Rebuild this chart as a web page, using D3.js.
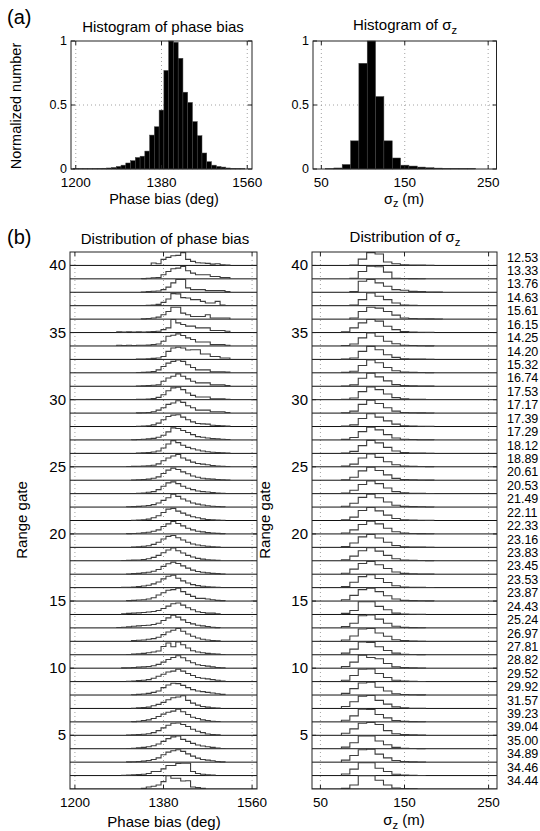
<!DOCTYPE html>
<html><head><meta charset="utf-8">
<script src="https://cdn.jsdelivr.net/npm/d3@7"></script>
<style>
body{margin:0;background:#fff}
svg{display:block}
text{font-family:"Liberation Sans",Arial,Helvetica,sans-serif;fill:#000}
</style>
</head><body>
<svg id="c" width="540" height="831"></svg>
<script>
// ---------------- DATA ----------------
// (a) histogram of phase bias
const phaseHistCenters = [1200,1210,1220,1230,1240,1250,1260,1270,1280,1290,1300,1310,1320,1330,1340,1350,1360,1370,1380,1390,1400,1410,1420,1430,1440,1450,1460,1470,1480,1490,1500,1510,1520,1530,1540,1550];
const phaseHistValues  = [0.003,0.003,0.003,0.003,0.004,0.005,0.006,0.008,0.012,0.02,0.03,0.047,0.065,0.09,0.10,0.14,0.265,0.33,0.46,0.77,1.0,0.99,0.865,0.6,0.52,0.37,0.26,0.125,0.057,0.03,0.02,0.015,0.008,0.005,0.004,0.003];
// (a) histogram of sigma_z
const sigmaHistCenters = [60,70,80,90,100,110,120,130,140,150,160,170,180,190,200,210,220,230];
const sigmaHistValues  = [0.003,0.008,0.035,0.22,0.826,1.0,0.566,0.22,0.086,0.03,0.023,0.015,0.01,0.007,0.005,0.005,0.004,0.004];

// (b) range gates, listed from top (40) to bottom (1)
const rangeGates = [40,39,38,37,36,35,34,33,32,31,30,29,28,27,26,25,24,23,22,21,20,19,18,17,16,15,14,13,12,11,10,9,8,7,6,5,4,3,2,1];
const gateTicks = [5,10,15,20,25,30,35,40];
// phase bias distribution per gate (percent of gate height), bin centres below
const phaseBins = [1290,1300,1310,1320,1330,1340,1350,1360,1370,1380,1390,1400,1410,1420,1430,1440,1450,1460,1470,1480,1490,1500,1510,1520];
const phaseDist = [
 [0,0,0,0,0,0,0,18,12,45,60,72,75,95,45,30,20,18,15,10,13,5,2,0],
 [0,0,0,0,0,2,5,8,10,30,55,75,80,92,60,43,30,30,30,18,18,10,10,0],
 [0,0,0,0,0,2,5,8,10,20,38,70,95,95,33,20,20,20,12,12,12,12,5,0],
 [0,0,0,0,0,2,3,5,10,25,50,90,88,60,57,45,45,32,20,20,32,5,2,0],
 [0,0,0,0,0,2,5,8,15,33,57,88,88,45,33,20,20,20,33,8,8,8,8,0],
 [5,3,6,4,5,3,6,8,10,22,35,97,72,60,48,48,35,35,35,15,15,15,10,0],
 [5,4,5,3,5,5,6,10,15,35,72,80,90,78,60,48,30,30,30,10,10,10,5,0],
 [0,0,0,0,2,3,5,8,10,22,60,85,90,85,70,72,72,40,40,22,22,10,10,0],
 [0,0,0,0,2,3,5,10,22,47,72,85,95,85,60,40,22,22,22,8,8,8,5,0],
 [0,0,0,0,2,3,5,8,10,37,62,75,92,75,55,37,25,25,25,10,10,10,5,0],
 [0,0,0,0,2,3,5,8,17,37,67,88,92,75,50,32,20,20,20,7,7,7,3,0],
 [0,0,0,0,2,3,5,10,22,40,65,75,92,80,55,40,22,22,22,10,10,10,4,0],
 [0,0,0,0,2,3,6,12,25,50,75,85,88,70,50,35,22,20,18,10,8,6,3,0],
 [0,0,0,2,3,5,8,12,20,35,60,90,85,70,55,40,25,20,15,10,8,5,3,0],
 [0,0,0,0,2,4,6,10,18,40,70,95,80,60,45,35,25,18,12,8,6,4,2,0],
 [0,0,2,3,4,6,8,12,22,45,65,80,92,65,50,35,25,20,15,10,6,4,2,0],
 [0,0,0,2,3,5,8,15,25,50,75,90,80,62,48,32,22,15,10,8,5,3,2,0],
 [0,0,0,0,3,5,10,15,30,55,80,88,75,55,40,30,20,15,12,8,5,3,0,0],
 [0,0,2,3,5,8,12,18,30,50,70,95,80,60,45,30,22,15,10,6,4,2,0,0],
 [0,0,0,2,4,6,10,20,35,60,85,90,70,55,40,28,20,12,8,5,3,2,0,0],
 [0,0,2,3,5,8,12,20,30,55,75,92,78,60,42,30,20,15,10,6,4,2,0,0],
 [0,0,0,3,5,8,12,22,38,62,82,88,72,55,38,25,18,12,8,5,3,0,0,0],
 [0,2,3,5,6,10,15,25,40,60,80,95,75,58,40,28,18,12,8,5,3,0,0,0],
 [0,0,2,4,6,10,15,22,35,58,78,90,80,62,45,30,20,15,10,6,4,2,0,0],
 [0,2,3,5,8,12,18,28,42,65,85,92,70,50,35,22,15,10,6,4,2,0,0,0],
 [0,0,3,5,8,10,15,25,45,62,80,85,95,70,50,35,20,20,15,10,5,3,0,0],
 [0,5,8,10,12,15,18,22,30,45,62,80,85,70,50,35,20,15,10,10,5,0,0,0],
 [3,5,8,12,15,18,20,25,35,55,75,95,80,60,40,30,20,15,10,5,2,0,0,0],
 [0,0,0,5,8,10,15,20,30,50,70,82,95,75,55,38,25,15,10,5,3,0,0,0],
 [0,0,2,5,8,10,15,20,28,62,88,60,95,75,50,30,20,15,10,8,5,2,0,0],
 [0,2,3,5,8,10,12,18,28,45,65,80,92,78,55,40,25,20,15,10,5,3,0,0],
 [0,0,2,5,8,10,15,25,40,55,72,78,92,78,60,45,30,25,20,15,10,5,0,0],
 [0,0,0,2,5,8,12,20,30,55,75,88,85,72,55,40,30,25,20,15,10,5,0,0],
 [0,0,0,2,4,6,10,20,30,45,65,80,85,95,60,40,25,15,10,5,3,0,0,0],
 [0,0,0,2,5,10,15,25,40,58,72,80,95,75,55,35,25,15,10,5,3,0,0,0],
 [0,0,2,4,6,8,12,20,35,55,75,90,92,80,65,45,30,20,10,5,3,0,0,0],
 [0,0,2,4,6,10,15,22,35,55,75,88,95,70,55,40,28,20,15,10,5,2,0,0],
 [0,0,2,3,5,8,12,20,32,55,75,85,92,80,62,45,30,20,15,10,5,2,0,0],
 [0,2,3,5,8,10,15,30,30,50,75,75,90,92,92,30,15,10,5,3,0,0,0,0],
 [0,0,0,0,0,5,15,20,30,55,100,80,80,60,62,15,10,5,0,0,0,0,0,0]
];
// sigma_z distribution per gate (percent of gate height)
const sigmaBins = [70,80,90,100,110,120,130,140,150,160,170,180,190];
const sigmaDist = [
 [0,0,2,47,95,85,25,12,4,3,2,1,0],
 [0,0,5,55,95,90,50,5,3,2,1,0,0],
 [0,0,5,82,95,70,45,20,15,7,5,2,1],
 [0,0,5,45,95,70,45,20,5,3,2,1,0],
 [0,0,8,57,88,82,57,30,8,5,3,2,1],
 [0,5,35,72,97,85,47,22,8,4,2,1,0],
 [0,3,15,60,97,72,35,17,5,3,2,1,0],
 [0,2,10,60,97,72,35,15,5,3,2,1,0],
 [0,3,12,55,95,75,40,15,5,3,2,1,0],
 [0,2,10,60,97,70,40,12,5,3,2,1,0],
 [0,3,12,60,95,75,42,15,6,3,2,1,0],
 [0,3,15,65,97,72,40,15,5,3,2,1,0],
 [0,3,12,60,95,70,42,18,6,4,2,1,0],
 [0,4,18,62,95,75,40,15,5,3,2,1,0],
 [0,3,15,58,97,78,45,18,6,3,2,1,0],
 [0,5,20,65,95,70,38,15,5,3,2,1,0],
 [0,4,22,70,97,72,40,14,5,3,2,1,0],
 [0,5,25,68,95,75,42,15,6,3,2,1,0],
 [0,6,28,72,96,70,38,14,5,3,2,1,0],
 [0,5,25,75,97,72,40,15,5,3,2,1,0],
 [0,7,30,70,95,75,42,16,6,3,2,1,0],
 [0,6,32,78,96,70,38,14,5,3,2,1,0],
 [0,8,35,75,97,72,40,15,5,3,2,1,0],
 [0,7,38,80,95,70,42,16,6,3,2,1,0],
 [0,8,40,82,97,68,38,14,5,3,2,1,0],
 [0,10,42,85,96,70,40,15,5,3,2,1,0],
 [0,8,30,95,95,60,35,10,4,2,1,0,0],
 [0,10,35,90,97,65,35,12,4,2,1,0,0],
 [0,10,40,92,95,62,38,12,5,2,1,0,0],
 [0,12,42,95,92,60,32,12,4,2,1,0,0],
 [0,12,45,97,80,70,35,10,4,2,1,0,0],
 [0,10,45,92,95,60,30,10,4,2,1,0,0],
 [0,12,48,90,95,58,30,10,4,2,1,0,0],
 [0,15,50,92,97,60,32,12,5,2,1,0,0],
 [0,12,45,95,92,55,30,10,4,2,1,0,0],
 [0,15,48,90,95,80,35,12,5,3,1,0,0],
 [0,12,45,95,95,58,30,10,4,2,1,0,0],
 [0,15,50,92,97,60,32,12,5,2,1,0,0],
 [0,12,48,95,95,55,30,10,4,2,1,0,0],
 [0,5,30,100,100,65,30,8,3,1,0,0,0]
];
const sigmaLabels = ["12.53","13.33","13.76","14.63","15.61","16.15","14.25","14.20","15.32","16.74","17.53","17.17","17.39","17.29","18.12","18.89","20.61","20.53","21.49","22.11","22.33","23.16","23.83","23.45","23.53","23.87","24.43","25.24","26.97","27.81","28.82","29.52","29.92","31.57","39.23","39.04","35.00","34.89","34.46","34.44"];

const phaseTicks = [1200,1380,1560];
const sigmaTicks = [50,150,250];
const normTicks = [0,0.5,1];
const normTickLabels = ["0","0.5","1"];

// ---------------- DRAWING ----------------
const svg = d3.select("#c");
const FS_TICK = 13.5, FS_LAB = 15;

function frame(g, x, y, xt, yGrid) {
  const [x0,x1] = x.range(), [y1,y0] = y.range();
  g.selectAll(".gx").data(xt).join("line")
    .attr("x1", d=>x(d)).attr("x2", d=>x(d)).attr("y1", y0).attr("y2", y1)
    .attr("stroke","#8a8a8a").attr("stroke-width",0.8).attr("stroke-dasharray","1,3");
  g.selectAll(".gy").data(yGrid).join("line")
    .attr("y1", d=>y(d)).attr("y2", d=>y(d)).attr("x1", x0).attr("x2", x1)
    .attr("stroke","#8a8a8a").attr("stroke-width",0.8).attr("stroke-dasharray","1,3");
}
function box(g, x, y, xt, yt, xLab, yLab, xlOff, yfs) {
  const [x0,x1] = x.range(), [y1,y0] = y.range();
  g.append("rect").attr("x",x0).attr("y",y0).attr("width",x1-x0).attr("height",y1-y0)
    .attr("fill","none").attr("stroke","#222").attr("stroke-width",1);
  const tl = 4;
  xt.forEach(t=>{
    g.append("line").attr("x1",x(t)).attr("x2",x(t)).attr("y1",y1).attr("y2",y1-tl).attr("stroke","#222");
    g.append("line").attr("x1",x(t)).attr("x2",x(t)).attr("y1",y0).attr("y2",y0+tl).attr("stroke","#222");
  });
  yt.forEach(t=>{
    g.append("line").attr("y1",y(t)).attr("y2",y(t)).attr("x1",x0).attr("x2",x0+tl).attr("stroke","#222");
    g.append("line").attr("y1",y(t)).attr("y2",y(t)).attr("x1",x1).attr("x2",x1-tl).attr("stroke","#222");
  });
  g.selectAll(".xl").data(xt).join("text")
    .attr("x",d=>x(d)).attr("y",y1+xlOff).attr("text-anchor","middle").attr("font-size",FS_TICK)
    .text((d,i)=>xLab[i]);
  g.selectAll(".yl").data(yt).join("text")
    .attr("x",x0-4).attr("y",d=>y(d)+yfs*0.33).attr("text-anchor","end").attr("font-size",yfs)
    .text((d,i)=>yLab[i]);
}
function sigmaText(sel, fs, rest) {
  sel.append("tspan").text("σ");
  sel.append("tspan").attr("font-size", fs*0.75).attr("dy", 3.5).text("z");
  if (rest) sel.append("tspan").attr("dy", -3.5).text(rest);
}

// ---- (a) left ----
{
  const x = d3.scaleLinear().domain([1190,1570]).range([71,252]);
  const y = d3.scaleLinear().domain([0,1]).range([169,41]);
  const g = svg.append("g");
  frame(g,x,y,phaseTicks,[0.5]);
  const bw = phaseHistCenters[1]-phaseHistCenters[0];
  g.selectAll(".bar").data(phaseHistCenters).join("rect")
    .attr("x",d=>x(d-bw/2)).attr("width",d=>x(d+bw/2)-x(d-bw/2))
    .attr("y",(d,i)=>y(phaseHistValues[i])).attr("height",(d,i)=>y(0)-y(phaseHistValues[i]))
    .attr("fill","#000").attr("stroke","#444").attr("stroke-width",0.5);
  box(g,x,y,phaseTicks,normTicks,phaseTicks.map(String),normTickLabels,18,12.5);
  svg.append("text").attr("x",163).attr("y",32).attr("text-anchor","middle").attr("font-size",FS_LAB).text("Histogram of phase bias");
  svg.append("text").attr("x",164).attr("y",203.5).attr("text-anchor","middle").attr("font-size",14.5).text("Phase bias (deg)");
  svg.append("text").attr("transform","translate(21,106) rotate(-90)").attr("text-anchor","middle").attr("font-size",14.5).text("Normalized number");
  svg.append("text").attr("x",7).attr("y",24).attr("font-size",20).text("(a)");
}
// ---- (a) right ----
{
  const x = d3.scaleLinear().domain([40,260]).range([313,496.5]);
  const y = d3.scaleLinear().domain([0,1]).range([169,41]);
  const g = svg.append("g");
  frame(g,x,y,sigmaTicks,[0.5]);
  const bw = sigmaHistCenters[1]-sigmaHistCenters[0];
  g.selectAll(".bar").data(sigmaHistCenters).join("rect")
    .attr("x",d=>x(d-bw/2)).attr("width",d=>x(d+bw/2)-x(d-bw/2))
    .attr("y",(d,i)=>y(sigmaHistValues[i])).attr("height",(d,i)=>y(0)-y(sigmaHistValues[i]))
    .attr("fill","#000").attr("stroke","#444").attr("stroke-width",0.5);
  box(g,x,y,sigmaTicks,normTicks,sigmaTicks.map(String),normTickLabels,18,12.5);
  sigmaText(svg.append("text").attr("x",405).attr("y",30).attr("text-anchor","middle").attr("font-size",FS_LAB)
     .call(s=>s.append("tspan").text("Histogram of ")), FS_LAB);
  sigmaText(svg.append("text").attr("x",404).attr("y",203.5).attr("text-anchor","middle").attr("font-size",14.5), 14.5, " (m)");
}
svg.append("text").attr("x",7).attr("y",244).attr("font-size",20).text("(b)");

// ---- (b) ridge panels ----
function ridge(xDomain, xRange, bins, dist, ticks, id) {
  const x = d3.scaleLinear().domain(xDomain).range(xRange);
  const y = d3.scaleLinear().domain([1,41]).range([789,252]);
  const g = svg.append("g");
  frame(g,x,y,ticks,[]);
  svg.append("clipPath").attr("id",id).append("rect")
    .attr("x",xRange[0]).attr("y",252).attr("width",xRange[1]-xRange[0]).attr("height",537);
  const cg = g.append("g").attr("clip-path",`url(#${id})`);
  cg.selectAll(".base").data(rangeGates).join("line")
    .attr("x1",xRange[0]).attr("x2",xRange[1]).attr("y1",d=>y(d)).attr("y2",d=>y(d))
    .attr("stroke","#111").attr("stroke-width",1);
  const bw = bins[1]-bins[0];
  const line = d3.line().x(d=>x(d[0])).y(d=>d[1]).curve(d3.curveStepAfter);
  cg.selectAll(".curve").data(rangeGates).join("path")
    .attr("d",(gate,i)=>{
      const v = dist[i];
      let first = v.findIndex(a=>a>0), last = v.length-1;
      while (last>0 && v[last]===0) last--;
      if (first<0) return null;
      const pts = [];
      for (let k=first;k<=last;k++) pts.push([bins[k]-bw/2, y(gate+v[k]/100)]);
      pts.push([bins[last]+bw/2, y(gate)]);
      pts.unshift([bins[first]-bw/2, y(gate)]);
      return line(pts);
    })
    .attr("fill","none").attr("stroke","#3c3c3c").attr("stroke-width",1.1);
  box(g,x,y,ticks,gateTicks,ticks.map(String),gateTicks.map(String),18,15);
  return y;
}
const yb = ridge([1190,1570],[70,257],phaseBins,phaseDist,phaseTicks,"clipL");
ridge([40,260],[312,497],sigmaBins,sigmaDist,sigmaTicks,"clipR");

svg.append("text").attr("x",165).attr("y",244).attr("text-anchor","middle").attr("font-size",FS_LAB).text("Distribution of phase bias");
sigmaText(svg.append("text").attr("x",405).attr("y",242).attr("text-anchor","middle").attr("font-size",FS_LAB)
   .call(s=>s.append("tspan").text("Distribution of ")), FS_LAB);
svg.append("text").attr("x",164).attr("y",827).attr("text-anchor","middle").attr("font-size",FS_LAB).text("Phase bias (deg)");
sigmaText(svg.append("text").attr("x",404).attr("y",825).attr("text-anchor","middle").attr("font-size",FS_LAB), FS_LAB, " (m)");
svg.append("text").attr("transform","translate(27,520) rotate(-90)").attr("text-anchor","middle").attr("font-size",FS_LAB).text("Range gate");
svg.append("text").attr("transform","translate(270,520) rotate(-90)").attr("text-anchor","middle").attr("font-size",FS_LAB).text("Range gate");

svg.selectAll(".slab").data(sigmaLabels).join("text")
  .attr("x",507).attr("y",(d,i)=>yb(rangeGates[i]+0.62)+4.5).attr("font-size",12.5).text(d=>d);
</script>
</body></html>
